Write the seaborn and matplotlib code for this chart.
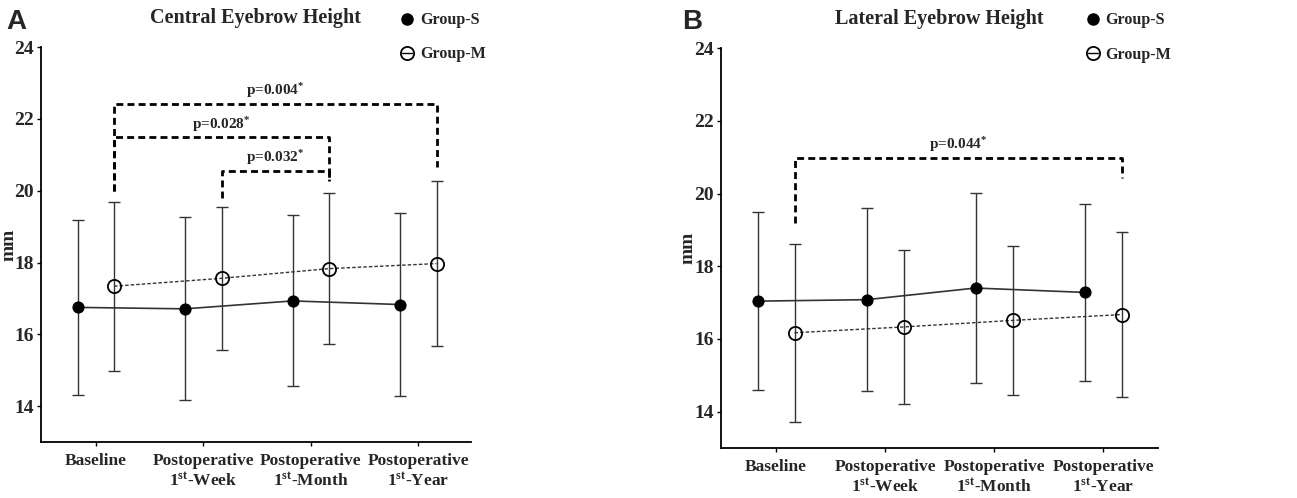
import numpy as np
import pandas as pd
import matplotlib
matplotlib.use("Agg")
import matplotlib.pyplot as plt
import seaborn as sns
from matplotlib.lines import Line2D

# Време на измерване
times = ["Baseline", "Postoperative\n$1^{st}$-Week",
         "Postoperative\n$1^{st}$-Month", "Postoperative\n$1^{st}$-Year"]
groups = ["Group-S", "Group-M"]

# Централна височина на веждата (mean, SD)
central_s_mean = [16.75, 16.71, 16.93, 16.83]
central_s_sd = [2.43, 2.55, 2.38, 2.54]
central_m_mean = [17.34, 17.56, 17.83, 17.97]
central_m_sd = [2.35, 1.99, 2.11, 2.30]

# Латерална височина на веждата (mean, SD)
lateral_s_mean = [17.04, 17.08, 17.40, 17.28]
lateral_s_sd = [2.44, 2.51, 2.62, 2.44]
lateral_m_mean = [16.17, 16.33, 16.51, 16.67]
lateral_m_sd = [2.45, 2.11, 2.04, 2.28]

# Скоби за значимост (Group-M): от, до, височина, краища, текст
central_pairs = [(0, 3), (0, 2), (1, 2)]
central_heights = [22.42, 21.49, 20.55]
central_legs = [(20.0, 20.67), (20.0, 20.28), (19.8, 20.28)]
central_labels = ["p=0.004", "p=0.028", "p=0.032"]

lateral_pairs = [(0, 3)]
lateral_heights = [20.99]
lateral_legs = [(19.2, 20.44)]
lateral_labels = ["p=0.044"]

sns.set_style("ticks")
plt.rcParams['font.family'] = ['Liberation Serif', 'DejaVu Serif']
plt.rcParams['font.weight'] = 'bold'
plt.rcParams['mathtext.fontset'] = 'custom'
plt.rcParams['mathtext.rm'] = 'Liberation Serif:bold'
plt.rcParams['mathtext.it'] = 'Liberation Serif:bold'
plt.rcParams['mathtext.bf'] = 'Liberation Serif:bold'

dodge = {"Group-S": -0.17, "Group-M": 0.17}


def make_df(s_mean, s_sd, m_mean, m_sd):
    rows = []
    for g, mean, sd in [("Group-S", s_mean, s_sd), ("Group-M", m_mean, m_sd)]:
        for i in range(len(times)):
            rows.append({'group': g, 't': i, 'x': i + dodge[g],
                         'mean': mean[i], 'sd': sd[i]})
    return pd.DataFrame(rows)


def draw_panel(ax, df, title, pairs, heights, legs, labels, xlim):
    s = df[df['group'] == 'Group-S']
    m = df[df['group'] == 'Group-M']
    ax.errorbar(s['x'], s['mean'], yerr=s['sd'], fmt='none', ecolor='#333333',
                elinewidth=1.0, capsize=4, capthick=1.0, zorder=2)
    ax.errorbar(m['x'], m['mean'], yerr=m['sd'], fmt='none', ecolor='#333333',
                elinewidth=1.0, capsize=4, capthick=1.0, zorder=2)
    sns.lineplot(data=s, x='x', y='mean', ax=ax, color='#333333', lw=1.2,
                 marker='o', markersize=8, markerfacecolor='black',
                 markeredgecolor='black', zorder=3)
    sns.lineplot(data=m, x='x', y='mean', ax=ax, color='#333333', lw=1.0,
                 linestyle=(0, (2.5, 1.5)), marker='o', markersize=9.5,
                 markerfacecolor='none', markeredgecolor='black',
                 markeredgewidth=1.3, zorder=3)

    mx = m['x'].tolist()
    for (i, j), h, (l1, l2), lab in zip(pairs, heights, legs, labels):
        ax.plot([mx[i], mx[i], mx[j], mx[j]], [l1, h, h, l2], color='black',
                lw=2, linestyle=(0, (2.5, 1.5)), zorder=4)
        ax.text((mx[i] + mx[j]) / 2, h + 0.1, lab + "$^{*}$", ha='center',
                va='bottom', fontsize=11, fontweight='bold')

    ax.set_xlim(*xlim)
    ax.set_ylim(13, 24)
    ax.set_yticks([14, 16, 18, 20, 22, 24])
    ax.set_xticks(range(len(times)))
    ax.set_xticklabels(times)
    ax.set_xlabel('')
    ax.set_ylabel('mm', fontsize=14, fontweight='bold')
    ax.yaxis.set_label_coords(-0.055, 0.5)
    ax.tick_params(axis='both', length=3, width=1, direction='out',
                   color='black')
    ax.tick_params(axis='x', labelsize=12.5, pad=5)
    ax.tick_params(axis='y', labelsize=14, pad=2)
    for lbl in ax.get_xticklabels() + ax.get_yticklabels():
        lbl.set_fontweight('bold')
    for sp in ['left', 'bottom']:
        ax.spines[sp].set_linewidth(1.3)
        ax.spines[sp].set_color('black')
    sns.despine(ax=ax)

    ax.text(0.5, 1.073, title, transform=ax.transAxes, ha='center',
            va='center', fontsize=14.5, fontweight='bold')

    handles = [
        Line2D([], [], marker='o', color='black', linestyle='none',
               markersize=8, markerfacecolor='black'),
        Line2D([], [], marker='o', color='black', linestyle='-', lw=1,
               markersize=9.5, markerfacecolor='none', markeredgewidth=1.3),
    ]
    ax.legend(handles, groups, loc='upper left', bbox_to_anchor=(0.807, 1.125),
              frameon=False, handlelength=0.6, handletextpad=0.5,
              labelspacing=1.15, prop={'weight': 'bold', 'size': 11.5})


fig = plt.figure(figsize=(12.97, 4.98), dpi=100)
ax1 = fig.add_axes([0.0316, 0.1124, 0.3315, 0.793])
ax2 = fig.add_axes([0.5559, 0.1004, 0.337, 0.803])

central_df = make_df(central_s_mean, central_s_sd, central_m_mean, central_m_sd)
lateral_df = make_df(lateral_s_mean, lateral_s_sd, lateral_m_mean, lateral_m_sd)

draw_panel(ax1, central_df, "Central Eyebrow Height", central_pairs,
           central_heights, central_legs, central_labels, (-0.51, 3.49))
draw_panel(ax2, lateral_df, "Lateral Eyebrow Height", lateral_pairs,
           lateral_heights, lateral_legs, lateral_labels, (-0.505, 3.505))

fig.text(16 / 1297, 1 - 22 / 498, 'A', family='Liberation Sans',
         fontweight='bold', fontsize=20, ha='center', va='center')
fig.text(692 / 1297, 1 - 22 / 498, 'B', family='Liberation Sans',
         fontweight='bold', fontsize=20, ha='center', va='center')

fig.savefig("out.png", dpi=100)
